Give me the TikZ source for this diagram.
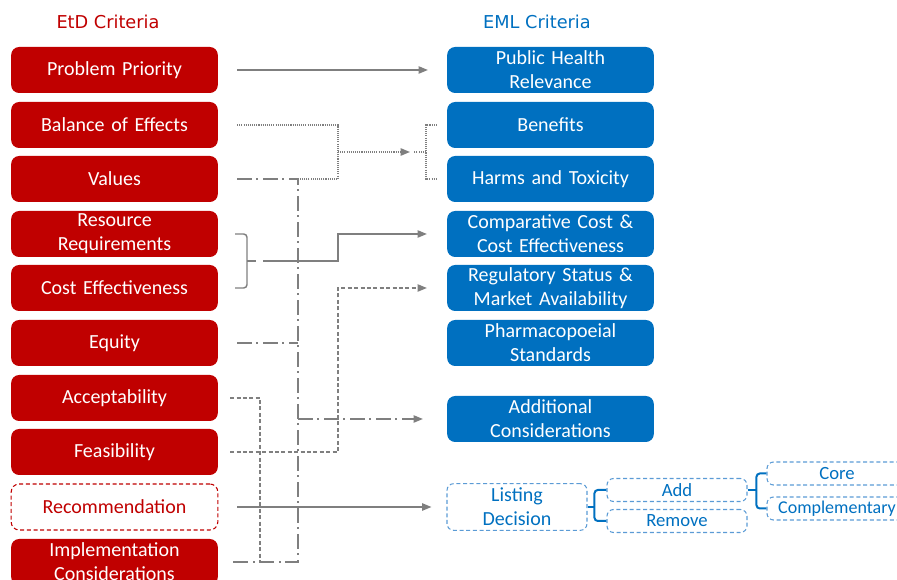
\documentclass[tikz,border=0pt]{standalone}
\usepackage{fontspec}
\setmainfont{Carlito}
\newfontfamily\headfont{DejaVu Sans}
\definecolor{etdred}{RGB}{192, 0, 0}
\definecolor{emlblue}{RGB}{0, 112, 192}
\definecolor{lightblue}{RGB}{91, 155, 213}
\definecolor{linkgray}{RGB}{127, 127, 127}
\usetikzlibrary{arrows.meta, calc}

\tikzset{
  etdbox/.style={fill=etdred, text=white, rounded corners=6pt, minimum width=155pt,
    minimum height=34.5pt, text width=150pt, align=center, inner sep=0pt,
    font=\fontsize{15}{18}\selectfont},
  emlbox/.style={etdbox, fill=emlblue},
  etddash/.style={etdbox, fill=white, text=etdred, draw=etdred, line width=0.8pt,
    dash pattern=on 3pt off 2pt},
  emldash/.style={draw=lightblue, text=emlblue, rounded corners=5pt, line width=0.8pt,
    dash pattern=on 3pt off 2pt, minimum width=105pt, align=center, inner sep=0pt},
  link/.style={draw=linkgray, line width=1.1pt},
  dotline/.style={link, dash pattern=on 0.8pt off 0.8pt},
  dashline/.style={link, dash pattern=on 3pt off 1.8pt},
  dashdot/.style={link, dash pattern=on 11pt off 3.5pt on 1.5pt off 3.5pt},
  tip/.style={-{Triangle[length=7pt, width=5.5pt]}},
  bluebrace/.style={draw=emlblue, line width=1.5pt, rounded corners=2.5pt}
}

\begin{document}
\begin{tikzpicture}[x=0.75pt, y=-0.75pt]
  \useasboundingbox (0,0) rectangle (897,580);
  \clip (0,0) rectangle (897,580);

  % headings
  \node[text=etdred, font=\headfont\fontsize{13.3}{15}\selectfont] (etdhead) at (108,22) {EtD Criteria};
  \node[text=emlblue, font=\headfont\fontsize{13.3}{15}\selectfont] (emlhead) at (537,22) {EML Criteria};

  % EtD column
  \node[etdbox] (pp) at (114.5,70) {Problem Priority};
  \node[etdbox] (boe) at (114.5,125) {Balance of Effects};
  \node[etdbox] (val) at (114.5,179) {Values};
  \node[etdbox] (resreq) at (114.5,234) {Resource\\Requirements};
  \node[etdbox] (costeff) at (114.5,288) {Cost Effectiveness};
  \node[etdbox] (equ) at (114.5,343) {Equity};
  \node[etdbox] (acc) at (114.5,398) {Acceptability};
  \node[etdbox] (fea) at (114.5,452) {Feasibility};
  \node[etddash] (rec) at (114.5,507) {Recommendation};
  \node[etdbox] (imp) at (114.5,562) {Implementation\\Considerations};

  % EML column
  \node[emlbox] (phr) at (550.5,70) {Public Health\\Relevance};
  \node[emlbox] (ben) at (550.5,125) {Benefits};
  \node[emlbox] (harm) at (550.5,179) {Harms and Toxicity};
  \node[emlbox] (ccce) at (550.5,234) {Comparative Cost \&\\Cost Effectiveness};
  \node[emlbox] (reg) at (550.5,288) {Regulatory Status \&\\Market Availability};
  \node[emlbox] (pharm) at (550.5,343) {Pharmacopoeial\\Standards};
  \node[emlbox] (addcon) at (550.5,419) {Additional\\Considerations};

  % listing decision tree
  \node[emldash, minimum height=35pt, font=\fontsize{15}{18}\selectfont] (listing) at (517,507) {Listing\\Decision};
  \node[emldash, minimum height=17.25pt, font=\fontsize{14}{16}\selectfont] (addbox) at (677,490) {Add};
  \node[emldash, minimum height=17.25pt, font=\fontsize{14}{16}\selectfont] (rembox) at (677,521) {Remove};
  \node[emldash, minimum height=17.25pt, font=\fontsize{14}{16}\selectfont] (corebox) at (837,473.5) {Core};
  \node[emldash, minimum height=17.25pt, font=\fontsize{13.5}{16}\selectfont] (compbox) at (837,508.5) {Complementary};

  \draw[bluebrace, rounded corners=0pt] (listing.east) -- (595,507);
  \draw[bluebrace] (addbox.west) -| ($(rembox.west)+(-12,0)$) -- (rembox.west);
  \draw[bluebrace, rounded corners=0pt] (addbox.east) -- (757,490);
  \draw[bluebrace] (corebox.west) -| ($(compbox.west)+(-10,0)$) -- (compbox.west);

  % junction points
  \coordinate (valbus) at (298,179);
  \coordinate (impbus) at (298,562);
  \coordinate (benmid) at (338,152);
  \coordinate (costmid) at (263,261);

  % solid links
  \draw[link, tip] ($(pp.east)+(19,0)$) -- ($(phr.west)+(-19,0)$);
  \draw[link, tip] ($(rec.east)+(19,0)$) -- ($(listing.west)+(-15,0)$);
  \draw[link, rounded corners=2.5pt] ($(resreq.east)+(17,0)$) -- (247,234) -- (247,288) -- ($(costeff.east)+(17,0)$);
  \draw[link] (247,261) -- (256,261);
  \draw[link, tip] (costmid) -| (338,234) -- ($(ccce.west)+(-20,0)$);

  % dotted links
  \draw[dotline] ($(boe.east)+(19,0)$) -| (338,179) -- (valbus);
  \draw[dotline, tip] (benmid) -- (410,152);
  \draw[dotline] ($(ben.west)+(-10,0)$) -| (426,179) -- ($(harm.west)+(-10,0)$);
  \draw[dotline] (426,152) -- (414,152);

  % dashed links
  \draw[dashline] ($(acc.east)+(12,0)$) -| (260,562);
  \draw[dashline, tip] ($(fea.east)+(12,0)$) -| (338,288) -- ($(reg.west)+(-20,0)$);

  % dash-dot links
  \draw[dashdot] ($(val.east)+(19,0)$) -- (valbus) -- (impbus) -- ($(imp.east)+(12,0)$);
  \draw[dashdot] ($(equ.east)+(19,0)$) -- (298,343);
  \draw[dashdot, tip] (298,419) -- ($(addcon.west)+(-24,0)$);
\end{tikzpicture}
\end{document}
